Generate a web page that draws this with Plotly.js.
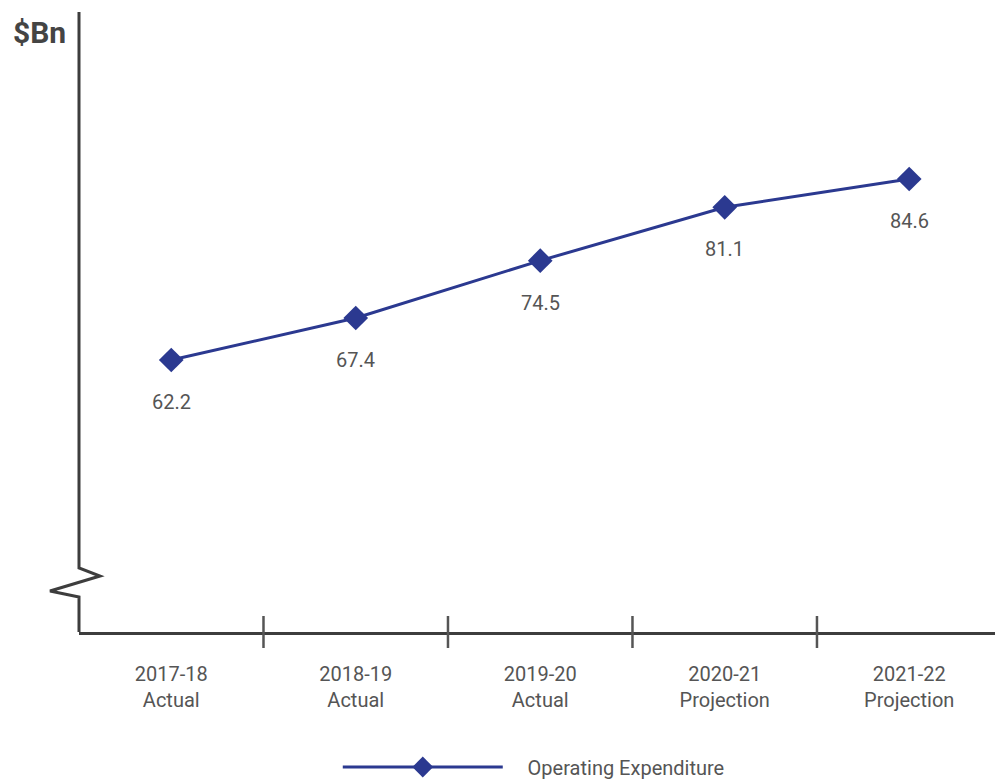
<!DOCTYPE html>
<html>
<head>
<meta charset="utf-8">
<script src="https://cdn.plot.ly/plotly-3.0.1.min.js"></script>
<style>html,body{margin:0;padding:0;background:#fff;}#chart{width:995px;height:779px;}</style>
</head>
<body>
<div id="chart"></div>
<script>
const years = ["2017-18", "2018-19", "2019-20", "2020-21", "2021-22"];
const kinds = ["Actual", "Actual", "Actual", "Projection", "Projection"];
const opex = [62.2, 67.4, 74.5, 81.1, 84.6];
const seriesName = "Operating Expenditure";
const unitLabel = "&#36;Bn";

const cats = years.map((y, i) => y + "<br>" + kinds[i]);
const textColor = "#555555";
const axisColor = "#3d3d3d";
const lineColor = "#2b3990";
const fontFam = "Roboto, 'DejaVu Sans', sans-serif";

const trace = {
  x: cats,
  y: opex,
  type: "scatter",
  mode: "lines+markers",
  name: "&nbsp;&nbsp;&nbsp;&nbsp;" + seriesName,
  line: {color: lineColor, width: 3},
  marker: {symbol: "diamond", size: 19, color: lineColor},
  hoverinfo: "x+y"
};

const annotations = opex.map((v, i) => ({
  x: cats[i], y: v, xref: "x", yref: "y",
  text: v.toFixed(1), showarrow: false, yshift: -42,
  font: {family: fontFam, size: 20, color: textColor}
}));
annotations.push({
  xref: "paper", yref: "paper", x: -0.0426, y: 1.0, xanchor: "center", yanchor: "middle", yshift: -20,
  text: "<b>" + unitLabel + "</b>", showarrow: false,
  font: {family: fontFam, size: 30, color: "#444444"}
});

// y-axis line with axis break, plus category boundary ticks crossing the x-axis
const H = 620, W = 916;
const shapes = [
  {type: "path", xref: "paper", yref: "paper",
   path: "M0,1 L0," + (64/H) + " L" + (21/W) + "," + (56/H) + " L" + (-29/W) + "," + (41/H) + " L0," + (35/H) + " L0,0",
   line: {color: axisColor, width: 3}}
];
[0.5, 1.5, 2.5, 3.5].forEach(b => shapes.push({
  type: "line", xref: "x", yref: "paper", x0: b, x1: b, y0: -16/H, y1: 16/H,
  line: {color: "#555555", width: 2.5}
}));

const layout = {
  width: 995, height: 779,
  margin: {l: 79, r: 0, t: 12, b: 147, autoexpand: false},
  paper_bgcolor: "#ffffff", plot_bgcolor: "#ffffff",
  font: {family: fontFam, size: 20, color: textColor},
  showlegend: true,
  legend: {orientation: "h", x: 0.2825, xanchor: "left", yref: "container", y: 1 - 767/779, yanchor: "middle",
    itemwidth: 160, font: {family: fontFam, size: 20, color: textColor}},
  xaxis: {
    type: "category", range: [-0.5, 4.465], automargin: false,
    showline: true, linecolor: axisColor, linewidth: 3,
    ticks: "", ticklabelstandoff: 22,
    showgrid: false, zeroline: false,
    tickfont: {family: fontFam, size: 20, color: textColor}
  },
  yaxis: {
    range: [28.54, 105.27], showline: false, showticklabels: false, ticks: "",
    showgrid: false, zeroline: false, automargin: false
  },
  shapes: shapes,
  annotations: annotations
};

Plotly.newPlot("chart", [trace], layout, {displayModeBar: false, staticPlot: true});
</script>
</body>
</html>
